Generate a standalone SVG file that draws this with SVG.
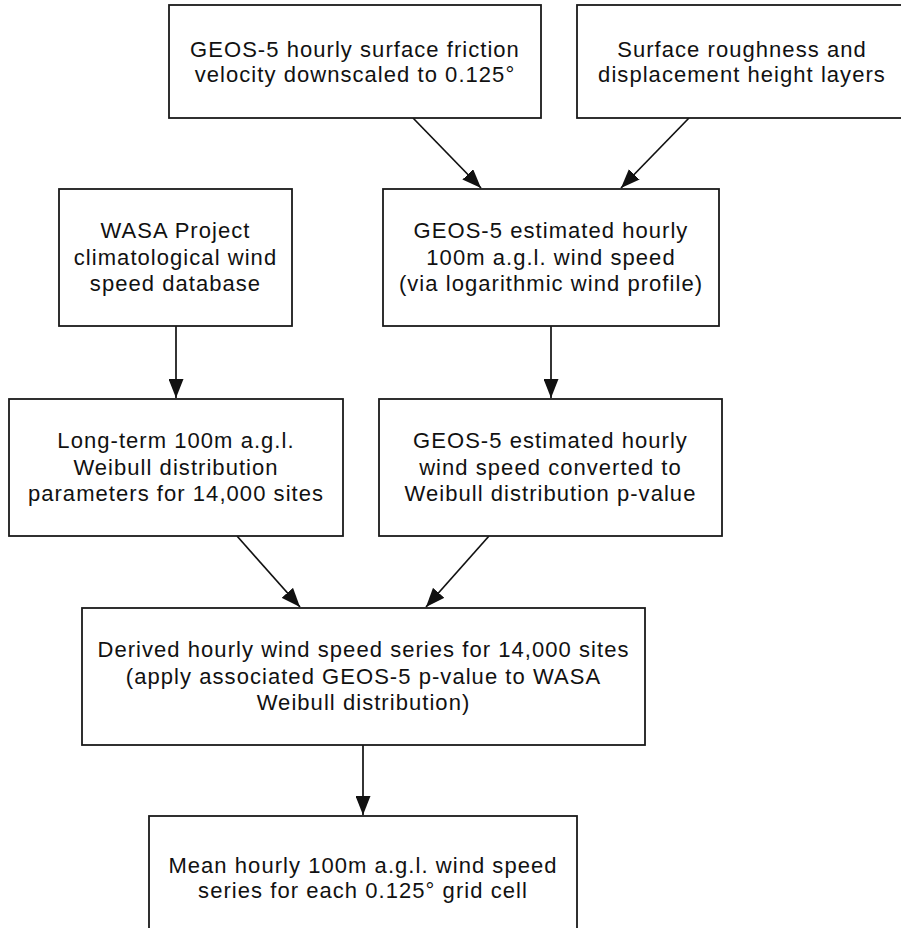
<svg xmlns="http://www.w3.org/2000/svg" width="901" height="928" viewBox="0 0 901 928">
<defs>
<style>
.box{fill:#fff;stroke:#1a1a1a;stroke-width:1.8}
.t{font-family:"Liberation Sans",Arial,Helvetica,sans-serif;font-size:22px;letter-spacing:1.05px;fill:#111;text-anchor:middle}
.c{stroke:#111;stroke-width:1.7;fill:none;marker-end:url(#ah)}
</style>
<marker id="ah" markerUnits="userSpaceOnUse" markerWidth="19" markerHeight="15" refX="19" refY="7.5" orient="auto" viewBox="0 0 19 15">
<path d="M0,0 L19,7.5 L0,15 z" fill="#111"/>
</marker>
</defs>
<rect width="901" height="928" fill="#fff"/>
<g id="connectors">
<line class="c" x1="413" y1="118" x2="481" y2="188"/>
<line class="c" x1="689" y1="118" x2="621" y2="188"/>
<line class="c" x1="176" y1="326" x2="176" y2="398"/>
<line class="c" x1="551" y1="326" x2="551" y2="398"/>
<line class="c" x1="237" y1="536" x2="300" y2="607"/>
<line class="c" x1="489" y1="536" x2="426" y2="607"/>
<line class="c" x1="363" y1="745" x2="363" y2="815"/>
</g>
<g id="n1">
<rect class="box" x="169" y="5" width="372" height="113"/>
<text class="t" x="355" y="57">GEOS-5 hourly surface friction</text>
<text class="t" x="355" y="82">velocity downscaled to 0.125°</text>
</g>
<g id="n2">
<rect class="box" x="577" y="5" width="330" height="113"/>
<text class="t" x="742" y="57">Surface roughness and</text>
<text class="t" x="742" y="82">displacement height layers</text>
</g>
<g id="n3">
<rect class="box" x="59" y="189" width="233" height="137"/>
<text class="t" x="175.5" y="238">WASA Project</text>
<text class="t" x="175.5" y="264.5">climatological wind</text>
<text class="t" x="175.5" y="291">speed database</text>
</g>
<g id="n4">
<rect class="box" x="383" y="189" width="336" height="137"/>
<text class="t" x="551" y="238">GEOS-5 estimated hourly</text>
<text class="t" x="551" y="264.5">100m a.g.l. wind speed</text>
<text class="t" x="551" y="291">(via logarithmic wind profile)</text>
</g>
<g id="n5">
<rect class="box" x="9" y="399" width="334" height="137"/>
<text class="t" x="176" y="448">Long-term 100m a.g.l.</text>
<text class="t" x="176" y="474.5">Weibull distribution</text>
<text class="t" x="176" y="501">parameters for 14,000 sites</text>
</g>
<g id="n6">
<rect class="box" x="379" y="399" width="343" height="137"/>
<text class="t" x="550.5" y="448">GEOS-5 estimated hourly</text>
<text class="t" x="550.5" y="474.5">wind speed converted to</text>
<text class="t" x="550.5" y="501">Weibull distribution p-value</text>
</g>
<g id="n7">
<rect class="box" x="82" y="608" width="563" height="137"/>
<text class="t" x="363.5" y="657">Derived hourly wind speed series for 14,000 sites</text>
<text class="t" x="363.5" y="683.5">(apply associated GEOS-5 p-value to WASA</text>
<text class="t" x="363.5" y="710">Weibull distribution)</text>
</g>
<g id="n8">
<rect class="box" x="149" y="816" width="428" height="124"/>
<text class="t" x="363" y="873">Mean hourly 100m a.g.l. wind speed</text>
<text class="t" x="363" y="898">series for each 0.125° grid cell</text>
</g>
</svg>
